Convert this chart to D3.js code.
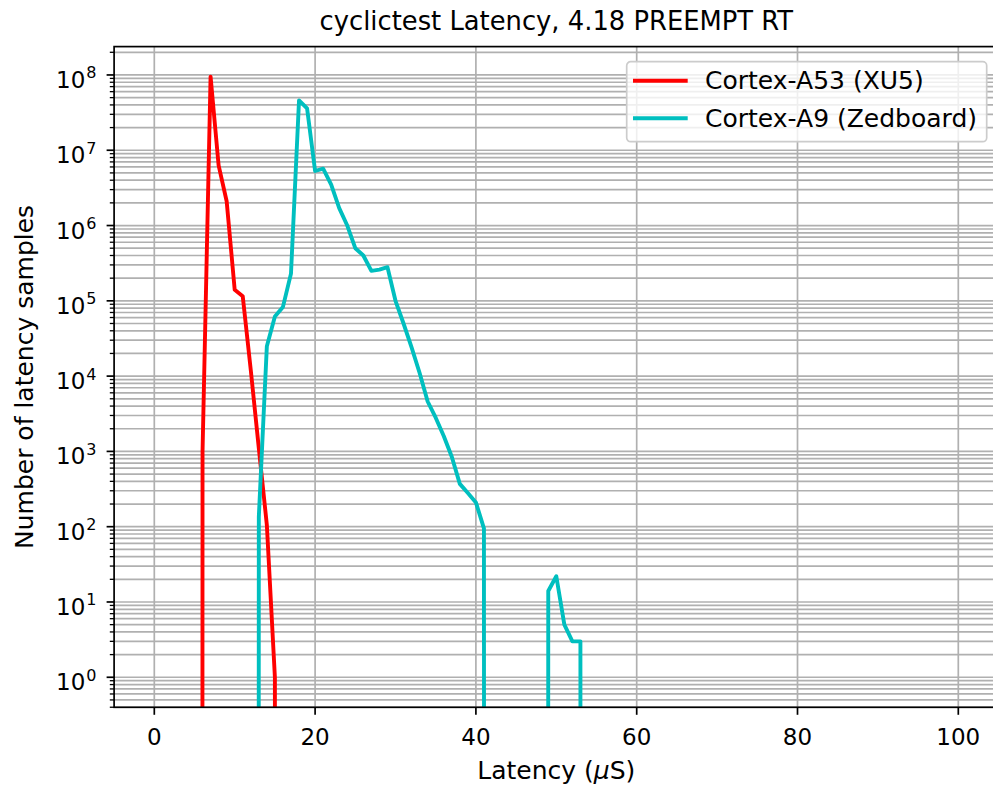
<!DOCTYPE html>
<html>
<head>
<meta charset="utf-8">
<script src="https://cdn.jsdelivr.net/npm/d3@7/dist/d3.min.js"></script>
<style>
  body { margin: 0; background: #fff; }
  text { font-family: "DejaVu Sans", sans-serif; fill: #000; }
</style>
</head>
<body>
<div id="chart"></div>
<script>
// latency histogram (bins in µs, sample counts)
const a53Latency = [5, 6, 7, 8, 9, 10, 11, 12, 13, 14, 15, 16];
const a53Counts  = [0, 1000, 9.5e7, 6.3e6, 2.1e6, 1.4e5, 1.15e5, 1.2e4, 1100, 105, 1, 0];

const a9Latency = [12, 13, 14, 15, 16, 17, 18, 19, 20, 21, 22, 23, 24, 25, 26, 27, 28, 29, 30,
                   31, 32, 33, 34, 35, 36, 37, 38, 39, 40, 41, 42, 43, 44, 45, 46, 47, 48,
                   49, 50, 51, 52, 53, 54];
const a9Counts  = [0, 135, 2.5e4, 6.2e4, 8.3e4, 2.3e5, 4.6e7, 3.6e7, 5.3e6, 5.7e6, 3.5e6, 1.7e6,
                   1.0e6, 5.0e5, 4.0e5, 2.5e5, 2.6e5, 2.8e5, 1.0e5, 5.0e4, 2.4e4, 1.1e4, 4600,
                   2800, 1600, 850, 370, 280, 210, 95, 0, 0, 0, 0, 0, 0, 0,
                   14, 22, 5, 3, 3, 0];

const seriesNames = ["Cortex-A53 (XU5)", "Cortex-A9 (Zedboard)"];
const xTicks = [0, 20, 40, 60, 80, 100];
const xLimits = [-5, 105];

// 크기 및 여백
const width = 993, height = 787;
const plotLeft = 114.1, plotRight = 998.5, plotTop = 46.6, plotBottom = 707.3;
const redColor = "#ff0000", cyanColor = "#00bfbf";
const gridColor = "#b0b0b0";
const tickFont = 23;     // tick labels
const labelFont = 25;    // axis labels + legend
const lineW = 3.9;

const series = [
  { name: seriesNames[0], color: redColor, pts: a53Latency.map((v, i) => [v, a53Counts[i]]) },
  { name: seriesNames[1], color: cyanColor, pts: a9Latency.map((v, i) => [v, a9Counts[i]]) }
];

// log y limits like matplotlib: positive extent padded by 5% (in decades)
const allPos = a53Counts.concat(a9Counts).filter(v => v > 0);
const lo = Math.log10(d3.min(allPos)), hi = Math.log10(d3.max(allPos));
const pad = (hi - lo) * 0.05;

const x = d3.scaleLinear().domain(xLimits).range([plotLeft, plotRight]);
const y = d3.scaleLog().domain([Math.pow(10, lo - pad), Math.pow(10, hi + pad)]).range([plotBottom, plotTop]);

const svg = d3.select("#chart").append("svg")
  .attr("width", width)
  .attr("height", height)
  .style("background", "white");

svg.append("defs").append("clipPath").attr("id", "plotclip")
  .append("rect")
  .attr("x", plotLeft).attr("y", plotTop)
  .attr("width", plotRight - plotLeft).attr("height", plotBottom - plotTop);

// y ticks (major decades + minor 2..9)
const majorExp = d3.range(Math.ceil(lo - pad), Math.floor(hi + pad) + 1);
const minorVals = [];
d3.range(Math.floor(lo - pad), Math.ceil(hi + pad)).forEach(e => {
  for (let k = 2; k <= 9; k++) {
    const v = k * Math.pow(10, e);
    if (v >= y.domain()[0] && v <= y.domain()[1]) minorVals.push(v);
  }
});

// 그리드
const grid = svg.append("g").attr("stroke", gridColor).attr("stroke-width", 1.7);
minorVals.forEach(v => grid.append("line")
  .attr("x1", plotLeft).attr("x2", plotRight).attr("y1", y(v)).attr("y2", y(v)));
majorExp.forEach(e => grid.append("line")
  .attr("x1", plotLeft).attr("x2", plotRight)
  .attr("y1", y(Math.pow(10, e))).attr("y2", y(Math.pow(10, e))));
xTicks.forEach(t => grid.append("line")
  .attr("x1", x(t)).attr("x2", x(t)).attr("y1", plotTop).attr("y2", plotBottom));

// 데이터 라인 (zeros are clipped far below the axis, like matplotlib's log clipping)
const line = d3.line()
  .x(d => x(d[0]))
  .y(d => y(Math.max(d[1], 1e-300)));

const lines = svg.append("g").attr("clip-path", "url(#plotclip)");
series.forEach(s => {
  lines.append("path")
    .attr("d", line(s.pts))
    .attr("fill", "none")
    .attr("stroke", s.color)
    .attr("stroke-width", lineW)
    .attr("stroke-linejoin", "round")
    .attr("stroke-linecap", "square");
});

// 축 선
svg.append("rect")
  .attr("x", plotLeft).attr("y", plotTop)
  .attr("width", plotRight - plotLeft).attr("height", plotBottom - plotTop)
  .attr("fill", "none").attr("stroke", "#000").attr("stroke-width", 1.7);

// x ticks
const xt = svg.append("g");
xTicks.forEach(t => {
  xt.append("line").attr("x1", x(t)).attr("x2", x(t))
    .attr("y1", plotBottom).attr("y2", plotBottom + 7.5)
    .attr("stroke", "#000").attr("stroke-width", 1.7);
  xt.append("text").attr("x", x(t)).attr("y", 745)
    .attr("text-anchor", "middle").style("font-size", tickFont + "px")
    .text(t);
});

// y ticks
const yt = svg.append("g");
minorVals.forEach(v => yt.append("line")
  .attr("x1", plotLeft - 4.3).attr("x2", plotLeft).attr("y1", y(v)).attr("y2", y(v))
  .attr("stroke", "#000").attr("stroke-width", 1.3));
majorExp.forEach(e => {
  const yy = y(Math.pow(10, e));
  yt.append("line").attr("x1", plotLeft - 7.5).attr("x2", plotLeft).attr("y1", yy).attr("y2", yy)
    .attr("stroke", "#000").attr("stroke-width", 1.7);
  const lbl = yt.append("text").attr("x", 96.5).attr("y", yy + 13)
    .attr("text-anchor", "end").style("font-size", tickFont + "px");
  lbl.append("tspan").text("10");
  lbl.append("tspan").attr("dx", 1).attr("dy", -9.5).style("font-size", "16px").text(e);
});

// 제목 및 축 라벨
svg.append("text")
  .attr("x", (plotLeft + plotRight) / 2).attr("y", 30)
  .attr("text-anchor", "middle").style("font-size", "25.8px")
  .text("cyclictest Latency, 4.18 PREEMPT RT");

const xl = svg.append("text")
  .attr("x", (plotLeft + plotRight) / 2).attr("y", 779)
  .attr("text-anchor", "middle").style("font-size", labelFont + "px");
xl.append("tspan").text("Latency (");
xl.append("tspan").style("font-style", "italic").text("\u03bc");
xl.append("tspan").text("S)");

svg.append("text")
  .attr("transform", `translate(33,${(plotTop + plotBottom) / 2}) rotate(-90)`)
  .attr("text-anchor", "middle").style("font-size", labelFont + "px")
  .text("Number of latency samples");

// 범례
const legendW = 360, legendH = 80;
const legend = svg.append("g")
  .attr("transform", `translate(${plotRight - 11.8 - legendW},${plotTop + 15.1})`);
legend.append("rect")
  .attr("width", legendW).attr("height", legendH).attr("rx", 4)
  .attr("fill", "white").attr("fill-opacity", 0.8)
  .attr("stroke", "#cccccc").attr("stroke-width", 1.7);
series.forEach((s, i) => {
  const ly = 19 + i * 37.6;
  legend.append("line")
    .attr("x1", 6.3).attr("x2", 61)
    .attr("y1", ly).attr("y2", ly)
    .attr("stroke", s.color).attr("stroke-width", lineW);
  legend.append("text")
    .attr("x", 78.3).attr("y", ly + 8.5)
    .style("font-size", labelFont + "px")
    .text(s.name);
});
</script>
</body>
</html>
